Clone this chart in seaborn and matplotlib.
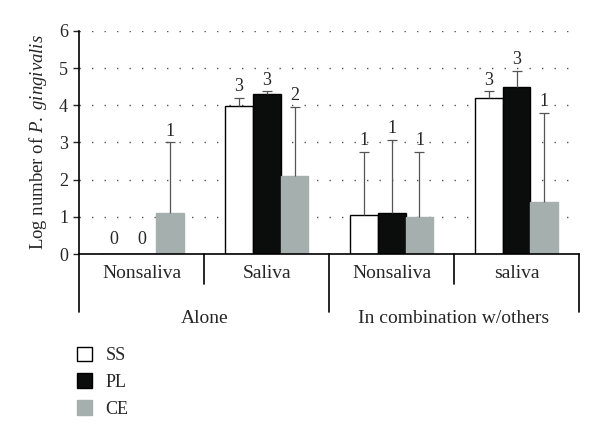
import pandas as pd
import matplotlib.pyplot as plt
import seaborn as sns
from matplotlib.patches import Patch

# Data
outer_labels = ['Alone', 'Alone', 'In combination w/others', 'In combination w/others']
inner_labels = ['Nonsaliva', 'Saliva', 'Nonsaliva', 'saliva']
series = ['SS', 'PL', 'CE']
ss_values = [0.0, 3.98, 1.04, 4.20]
pl_values = [0.0, 4.31, 1.10, 4.49]
ce_values = [1.11, 2.11, 1.00, 1.39]
ss_err_top = [0.0, 4.20, 2.75, 4.37]
pl_err_top = [0.0, 4.37, 3.07, 4.92]
ce_err_top = [3.00, 3.95, 2.74, 3.79]
ss_n = ['0', '3', '1', '3']
pl_n = ['0', '3', '1', '3']
ce_n = ['1', '2', '1', '1']
colors = ['#ffffff', '#0a0d0b', '#a5b0ae']

sns.set_style('white')
plt.rcParams['font.family'] = ['Liberation Serif', 'DejaVu Serif']
plt.rcParams['mathtext.fontset'] = 'custom'
plt.rcParams['mathtext.it'] = 'Liberation Serif:italic'
plt.rcParams['mathtext.rm'] = 'Liberation Serif'

# Build a long table for seaborn
keys = [o + '|' + i + str(k) for k, (o, i) in enumerate(zip(outer_labels, inner_labels))]
values = {'SS': ss_values, 'PL': pl_values, 'CE': ce_values}
err_top = {'SS': ss_err_top, 'PL': pl_err_top, 'CE': ce_err_top}
counts = {'SS': ss_n, 'PL': pl_n, 'CE': ce_n}
rows = []
for s in series:
    for k, v in zip(keys, values[s]):
        rows.append({'cond': k, 'series': s, 'value': v})
df = pd.DataFrame(rows)

fig = plt.figure(figsize=(6, 4.41), dpi=100)
ax = fig.add_axes([0.132, 0.424, 0.833, 0.506])

sns.barplot(data=df, x='cond', y='value', hue='series', order=keys, hue_order=series,
            palette=colors, width=0.67, errorbar=None, saturation=1,
            edgecolor='black', linewidth=1.0, legend=False, ax=ax, zorder=2)

# CE bars have no dark outline
for bar in ax.containers[2]:
    bar.set_edgecolor(colors[2])

# one-sided error bars (cap on top only) and n labels
for s, cont in zip(series, ax.containers):
    for bar, top, n in zip(cont, err_top[s], counts[s]):
        xc = bar.get_x() + bar.get_width() / 2
        h = bar.get_height()
        if top > h:
            ax.vlines(xc, h, top, color='#555555', lw=0.9, zorder=3)
            ax.plot([xc], [top], marker='_', ms=7, mew=0.9, color='#555555', zorder=3)
        ax.annotate(n, (xc, max(top, h)), xytext=(0, 2 if top > 0 else 4),
                    textcoords='offset points', ha='center', va='bottom', fontsize=13)

ax.set_ylim(0, 6)
ax.set_xlim(-0.5, 3.5)
ax.set_yticks(range(7))
ax.tick_params(axis='y', labelsize=13, length=4, width=1, left=True, pad=4)
ax.set_xticks([])
ax.set_xlabel('')
ax.set_ylabel('Log number of $\\it{P.\\ gingivalis}$', fontsize=13.5, labelpad=7)
for yv in range(1, 7):
    ax.axhline(yv, color='#555555', lw=1.0, ls=(0, (1, 8)), zorder=0)

for side in ['top', 'right']:
    ax.spines[side].set_visible(False)
ax.spines['left'].set_linewidth(1.2)
ax.spines['bottom'].set_linewidth(1.2)
ax.spines['left'].set_color('black')
ax.spines['bottom'].set_color('black')

# hierarchical category axis
trans = ax.get_xaxis_transform()
for i, lab in enumerate(inner_labels):
    ax.text(i, -0.087, lab, transform=trans, ha='center', va='center', fontsize=14)
for xb in [0.5, 2.5]:
    ax.plot([xb, xb], [0, -0.133], transform=trans, color='black', lw=1.2, clip_on=False)
for xb in [-0.5, 1.5, 3.5]:
    ax.plot([xb, xb], [0, -0.26], transform=trans, color='black', lw=1.2, clip_on=False)
ax.text(0.5, -0.29, 'Alone', transform=trans, ha='center', va='center', fontsize=14)
ax.text(2.5, -0.29, 'In combination w/others', transform=trans, ha='center', va='center', fontsize=14)

handles = [Patch(facecolor=c, edgecolor=('black' if s != 'CE' else c), linewidth=1.0)
           for s, c in zip(series, colors)]
fig.legend(handles, series, loc='upper left', bbox_to_anchor=(0.128, 0.214), frameon=False,
           fontsize=13, borderpad=0, borderaxespad=0, labelspacing=0.52,
           handlelength=0.85, handleheight=0.85, handletextpad=0.75)

fig.savefig('out.png', dpi=100)
